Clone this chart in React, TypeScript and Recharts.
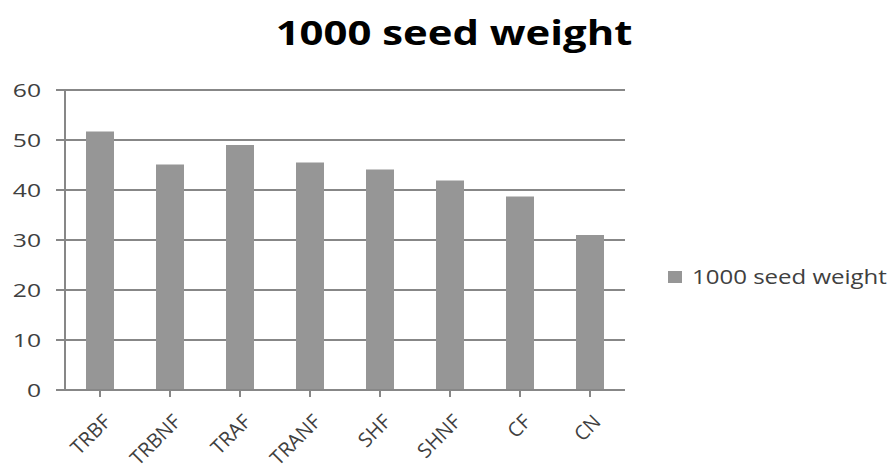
import { BarChart, Bar, XAxis, YAxis, CartesianGrid } from "recharts";

const categories = ["TRBF", "TRBNF", "TRAF", "TRANF", "SHF", "SHNF", "CF", "CN"];
const seedWeight = [51.7, 45.1, 49.0, 45.5, 44.1, 41.9, 38.7, 31.0];
const yTicks = [0, 10, 20, 30, 40, 50, 60];

const data = categories.map((name, i) => ({ name, weight: seedWeight[i] }));

const FONT = "'Open Sans', sans-serif";
const BAR = "#969696";
const LINE = "#878787";
const TEXT = "#404040";

// category labels run diagonally, ending just right of the tick centre
const AngledTick = ({ x, y, payload }: any) => {
  const ax = x + 12;
  const ay = y + 24;
  return (
    <text
      x={ax}
      y={ay}
      textAnchor="end"
      transform={`rotate(-45 ${ax} ${ay})`}
      fill={TEXT}
      fontSize={20}
      fontFamily={FONT}
    >
      {payload.value}
    </text>
  );
};

// value labels are drawn a little wide
const ValueTick = ({ x, y, payload }: any) => (
  <text
    transform={`translate(${x} ${y}) scale(1.3 1)`}
    textAnchor="end"
    dy="0.36em"
    fill={TEXT}
    fontSize={19}
    fontFamily={FONT}
  >
    {payload.value}
  </text>
);

export default function App() {
  return (
    <div style={{ position: "absolute", left: 0, top: 0, width: 889, height: 470, background: "#fff" }}>
      <div
        style={{
          position: "absolute",
          left: 254,
          width: 400,
          top: 9,
          textAlign: "center",
          fontFamily: FONT,
          fontWeight: 700,
          fontSize: 34,
          lineHeight: "normal",
          color: "#000",
          transform: "scaleX(1.23)",
          transformOrigin: "center",
        }}
      >
        1000 seed weight
      </div>
      <BarChart
        width={889}
        height={470}
        data={data}
        margin={{ top: 90, right: 264, bottom: 10, left: 0 }}
        barCategoryGap="30%"
      >
        <CartesianGrid vertical={false} stroke={LINE} strokeWidth={2} />
        <XAxis
          dataKey="name"
          height={70}
          interval={0}
          tick={<AngledTick />}
          tickSize={7}
          axisLine={{ stroke: LINE, strokeWidth: 2 }}
          tickLine={{ stroke: LINE, strokeWidth: 2 }}
        />
        <YAxis
          width={65}
          domain={[0, 60]}
          ticks={yTicks}
          tickSize={9}
          tickMargin={15}
          axisLine={{ stroke: LINE, strokeWidth: 2 }}
          tickLine={{ stroke: LINE, strokeWidth: 2 }}
          tick={<ValueTick />}
        />
        <Bar dataKey="weight" name="1000 seed weight" fill={BAR} isAnimationActive={false} />
      </BarChart>
      <div
        style={{
          position: "absolute",
          left: 668,
          top: 263,
          display: "flex",
          alignItems: "center",
          fontFamily: FONT,
          fontSize: 20,
          color: TEXT,
          whiteSpace: "nowrap",
        }}
      >
        <span style={{ width: 14, height: 12, background: BAR, marginRight: 10, display: "inline-block" }} />
        <span style={{ display: "inline-block", transform: "scaleX(1.2)", transformOrigin: "left center" }}>
          1000 seed weight
        </span>
      </div>
    </div>
  );
}
